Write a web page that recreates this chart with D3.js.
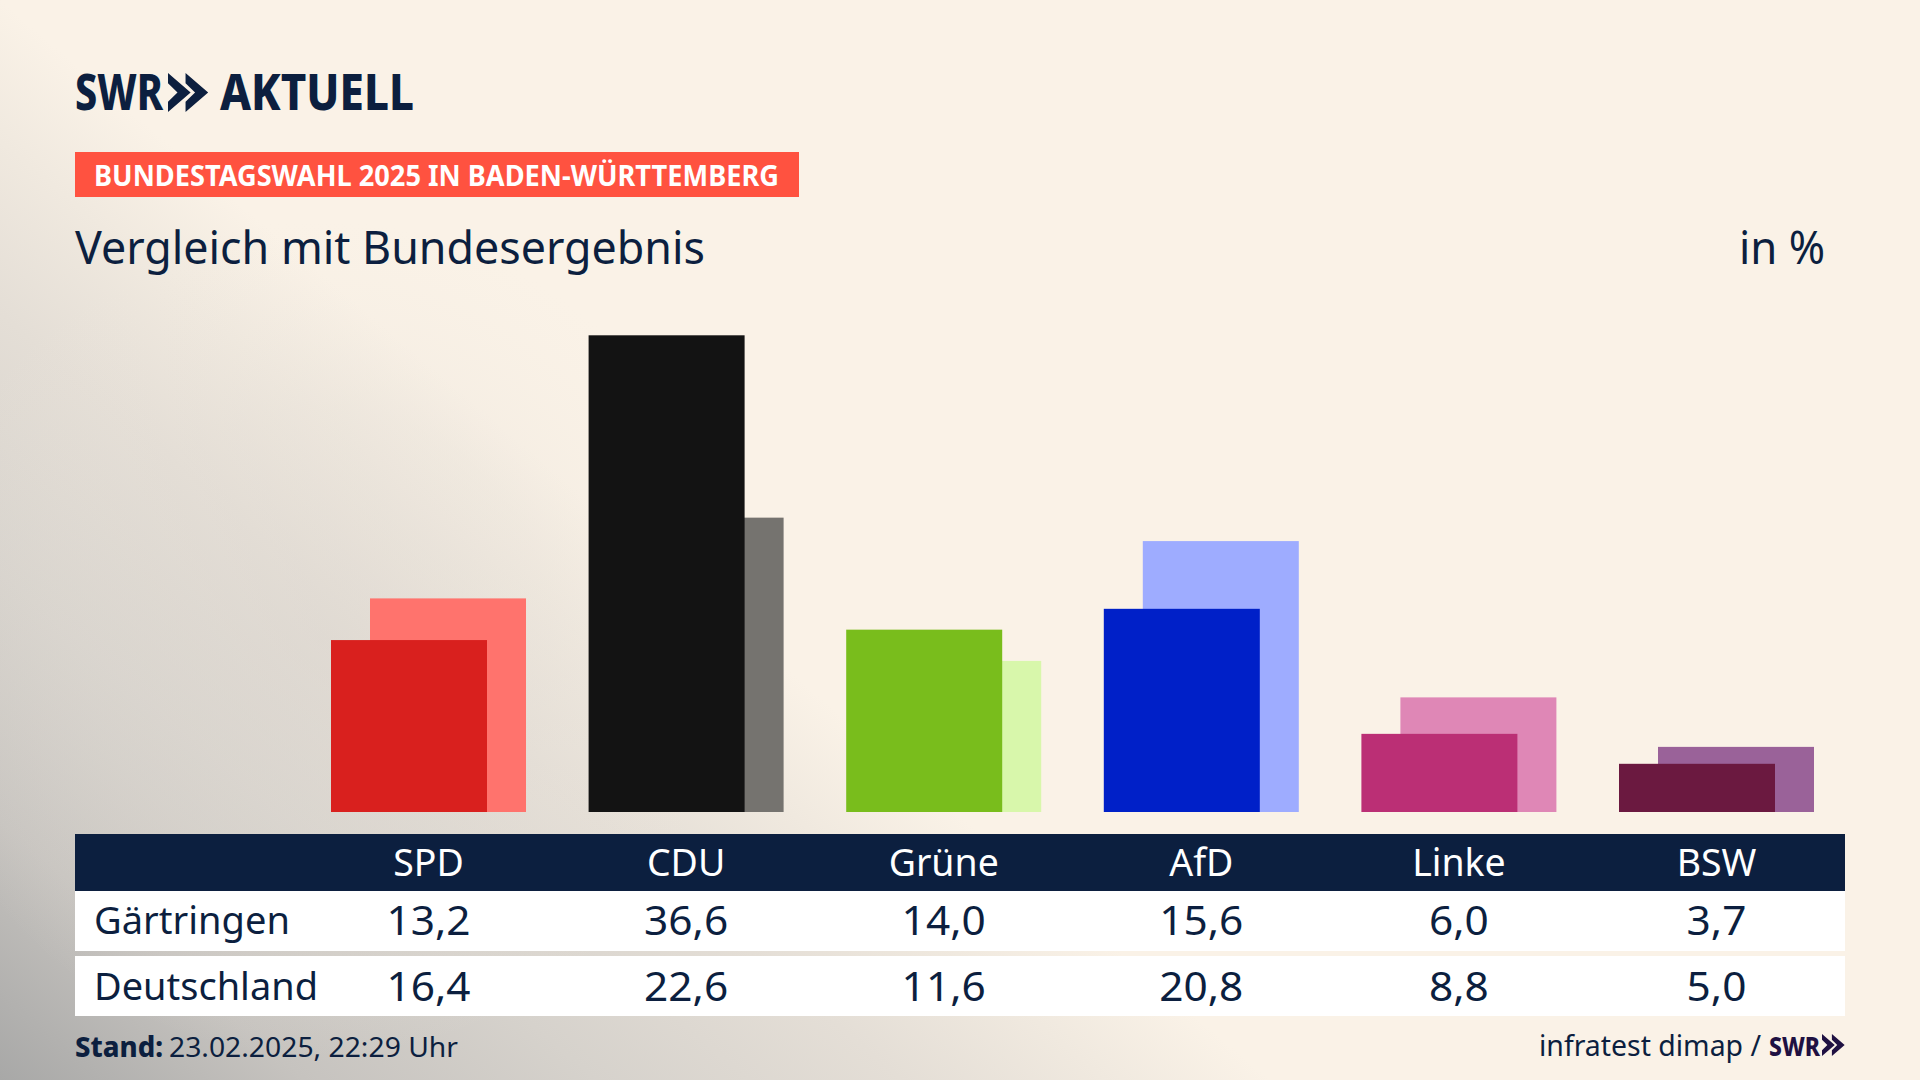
<!DOCTYPE html>
<html lang="de"><head><meta charset="utf-8"><title>Vergleich mit Bundesergebnis</title>
<script src="https://cdnjs.cloudflare.com/ajax/libs/d3/7.8.5/d3.min.js"></script>
<style>html,body{margin:0;padding:0;background:#faf2e7;overflow:hidden}svg{display:block}text{font-family:"Noto Sans",sans-serif}</style>
</head><body><svg id="c" width="1920" height="1080"></svg>
<script>
const parties = ["SPD","CDU","Grüne","AfD","Linke","BSW"];
const localName = "Gärtringen";
const nationalName = "Deutschland";
const localValues = [13.2,36.6,14.0,15.6,6.0,3.7];
const nationalValues = [16.4,22.6,11.6,20.8,8.8,5.0];
const localColors = ["#d9201e","#131313","#79bd1c","#0020c8","#bb2f75","#6b1940"];
const nationalColors = ["#ff736d","#75736f","#d8f7ab","#9eacff","#df87b6","#9a6299"];
const fmt = v => d3.format(".1f")(v).replace(".",",");

const navy="#0c1f3f";
const svg=d3.select("#c");
const defs=svg.append("defs");
const g1=defs.append("linearGradient").attr("id","bg1").attr("gradientUnits","userSpaceOnUse")
  .attr("x1",0).attr("y1",1080).attr("x2",533).attr("y2",453);
[[0,"#a8a8a7"],[.24,"#c6c3bf"],[.47,"#d6d2cc"],[.71,"#e4ded6"],[.87,"#f0e9df"],[1,"#faf2e7"]]
  .forEach(s=>g1.append("stop").attr("offset",s[0]).attr("stop-color",s[1]));
const g2=defs.append("radialGradient").attr("id","bg2").attr("gradientUnits","userSpaceOnUse")
  .attr("cx",320).attr("cy",640).attr("r",420);
[[0,"#ddd7d0",.4],[.55,"#e4ded6",.28],[1,"#f0e9df",0]]
  .forEach(s=>g2.append("stop").attr("offset",s[0]).attr("stop-color",s[1]).attr("stop-opacity",s[2]));
svg.append("rect").attr("width",1920).attr("height",1080).attr("fill","url(#bg1)");
svg.append("rect").attr("width",1920).attr("height",1080).attr("fill","url(#bg2)");

// condense: narrows glyphs the way the broadcaster's narrow typeface runs
function txt(parent,s,x,y,size,fill,o={}){
  const t=parent.append("text").attr("x",x).attr("y",y).attr("font-size",size).attr("fill",fill)
    .attr("font-weight",o.weight||400).attr("text-anchor",o.anchor||"start").text(s);
  const w=o.width||t.node().getComputedTextLength()*(o.k||.88);
  t.attr("textLength",w).attr("lengthAdjust","spacingAndGlyphs");
  return t;
}
function chevrons(x,y,h,fill){
  const w=h*.58,path=d3.path();
  [0,h*.45].forEach(dx=>{
    path.moveTo(x+dx,y);path.lineTo(x+dx+w,y+h/2);
    path.lineTo(x+dx,y+h);path.lineTo(x+dx,y+h*.74);path.lineTo(x+dx+w*.42,y+h/2);path.lineTo(x+dx,y+h*.26);path.closePath();
  });
  svg.append("path").attr("d",path.toString()).attr("fill",fill);
}

// header
txt(svg,"SWR",75,110,49,navy,{weight:800,width:88});
chevrons(168,73,39,navy);
txt(svg,"AKTUELL",220,110,49,navy,{weight:800,width:194});
svg.append("rect").attr("x",75).attr("y",152).attr("width",724).attr("height",45).attr("fill","#ff5240");
txt(svg,"BUNDESTAGSWAHL 2025 IN BADEN-WÜRTTEMBERG",94,186,29,"#fff",{weight:700,width:685});
txt(svg,"Vergleich mit Bundesergebnis",75,264,45,navy,{width:630});
txt(svg,"in %",1825,264,45,navy,{anchor:"end",width:86});

// scales
const x=d3.scalePoint().domain(parties).range([428.5,1716.5]);
const y=d3.scaleLinear().domain([0,36.6]).range([812,335.3]);
const barW=156, off=39;
const idx=d3.scaleOrdinal().domain(parties).range(d3.range(parties.length));
svg.append("g").selectAll("rect").data(parties).join("rect")
  .attr("x",d=>x(d)-barW/2-off/2+off).attr("width",barW)
  .attr("y",d=>y(nationalValues[idx(d)])).attr("height",d=>y(0)-y(nationalValues[idx(d)]))
  .attr("fill",d=>nationalColors[idx(d)]);
svg.append("g").selectAll("rect").data(parties).join("rect")
  .attr("x",d=>x(d)-barW/2-off/2).attr("width",barW)
  .attr("y",d=>y(localValues[idx(d)])).attr("height",d=>y(0)-y(localValues[idx(d)]))
  .attr("fill",d=>localColors[idx(d)]);

// table
const T=svg.append("g");
T.append("rect").attr("x",75).attr("y",834).attr("width",1770).attr("height",57).attr("fill",navy);
T.append("rect").attr("x",75).attr("y",891).attr("width",1770).attr("height",60).attr("fill","#fff");
T.append("rect").attr("x",75).attr("y",956).attr("width",1770).attr("height",60).attr("fill","#fff");
parties.forEach((p,i)=>{
  txt(T,p,x(p),876,39,"#fff",{anchor:"middle",k:.96});
  txt(T,fmt(localValues[i]),x(p),935,40,navy,{anchor:"middle",k:1.06});
  txt(T,fmt(nationalValues[i]),x(p),1001,40,navy,{anchor:"middle",k:1.06});
});
txt(T,localName,94,934,39,navy,{width:196});
txt(T,nationalName,94,1000,39,navy,{width:224});

// footer
txt(svg,"Stand:",75,1057,28,navy,{weight:800,width:88});
txt(svg,"23.02.2025, 22:29 Uhr",169,1057,28,navy,{width:289});
txt(svg,"infratest dimap /",1539,1056,29,navy,{width:222});
txt(svg,"SWR",1769,1056,26,"#1f1142",{weight:800,width:51});
chevrons(1822,1034,22,"#1f1142");
</script></body></html>
